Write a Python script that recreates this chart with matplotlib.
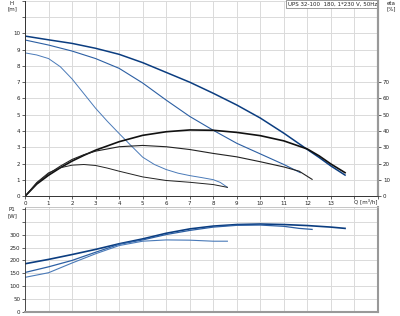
import matplotlib.pyplot as plt
from matplotlib.ticker import MultipleLocator

# flow Q [m3/h] and head H [m] for the three speeds
q3 = [0, 1, 2, 3, 4, 5, 6, 7, 8, 9, 10, 11, 12, 12.5, 13, 13.6]
h3 = [9.83, 9.6, 9.38, 9.08, 8.71, 8.2, 7.6, 7.0, 6.32, 5.6, 4.8, 3.87, 2.87, 2.38, 1.86, 1.3]
q2 = [0, 1, 2, 3, 4, 5, 6, 7, 8, 9, 10, 11, 11.7]
h2 = [9.59, 9.28, 8.91, 8.45, 7.85, 6.95, 5.9, 4.9, 4.05, 3.25, 2.6, 1.95, 1.45]
q1 = [0, 0.5, 1, 1.5, 2, 2.5, 3, 3.5, 4, 4.5, 5, 5.5, 6, 6.5, 7, 7.5, 8, 8.3, 8.6]
h1 = [8.8, 8.67, 8.45, 7.95, 7.2, 6.3, 5.4, 4.6, 3.85, 3.12, 2.4, 1.95, 1.64, 1.42, 1.27, 1.15, 1.02, 0.85, 0.55]

# efficiency eta [%]
qe3 = [0, 0.5, 1, 1.5, 2, 2.5, 3, 4, 5, 6, 7, 8, 9, 10, 11, 12, 12.5, 13, 13.6]
eta3 = [0, 7.5, 12.9, 17.5, 21.6, 25.1, 28.3, 33.5, 37.4, 39.6, 40.7, 40.5, 39.2, 37.2, 34.0, 29.0, 24.8, 19.8, 14.5]
qe2 = [0, 0.5, 1, 1.5, 2, 2.5, 3, 4, 5, 6, 7, 8, 9, 10, 11, 11.65, 12.2]
eta2 = [0, 8.0, 13.8, 18.5, 22.6, 25.5, 27.7, 30.4, 31.2, 30.4, 28.7, 26.3, 24.2, 21.2, 18.0, 15.4, 10.4]
qe1 = [0, 0.5, 1, 1.5, 2, 2.5, 3, 3.5, 4, 5, 6, 7, 8, 8.6]
eta1 = [0, 8.5, 14.4, 17.5, 19.1, 19.5, 18.9, 17.3, 15.4, 11.9, 9.7, 8.6, 7.2, 5.5]

# power P1 [W]
p3 = [187, 204, 223, 243, 265, 284, 306, 323, 334, 340, 342, 340, 336, 333, 330, 325]
qp2 = [0, 1, 2, 3, 4, 5, 6, 7, 8, 9, 10, 11, 11.65, 12.2]
p2 = [153, 175, 200, 232, 263, 280, 301, 317, 330, 337, 338, 333, 325, 321]
qp1 = [0, 1, 2, 3, 4, 5, 6, 7, 8, 8.6]
p1 = [134, 152, 190, 226, 258, 275, 280, 279, 275, 275]

title = "UPS 32-100  180, 1*230 V, 50Hz"
c3, c2, c1 = '#0b3d80', '#2c5fa3', '#4a7ab8'
grid_c = '#dadada'
fs = 4

fig = plt.figure(figsize=(4, 3.16), dpi=100)
ax = fig.add_axes([0.0625, 0.3788, 0.8825, 0.619])
axp = fig.add_axes([0.0625, 0.0136, 0.8825, 0.331])

# ---- upper chart: head and efficiency
ax.set_xlim(0, 15)
ax.set_ylim(0, 12)
ax.xaxis.set_major_locator(MultipleLocator(1))
ax.yaxis.set_major_locator(MultipleLocator(1))
ax.grid(True, color=grid_c, lw=0.7)
ax.set_axisbelow(True)
ax.set_xticks(range(0, 16))
ax.set_xticklabels([str(i) for i in range(14)] + ['', ''])
ax.set_yticks(range(0, 13))
ax.set_yticklabels([str(i) for i in range(11)] + ['', ''])
ax.tick_params(labelsize=fs, length=2, width=0.5, pad=1.5, colors='#222')
ax.text(14.47, -0.15, 'Q [m³/h]', fontsize=fs, ha='center', va='top', color='#222')
ax.text(-0.55, 12.0, 'H\n[m]', fontsize=fs, ha='center', va='top', color='#222', linespacing=1.2)

ax.plot(q3, h3, color=c3, lw=1.1)
ax.plot(q2, h2, color=c2, lw=0.8)
ax.plot(q1, h1, color=c1, lw=0.7)
ax.plot(qe3, [e / 10 for e in eta3], color='#111', lw=1.2)
ax.plot(qe2, [e / 10 for e in eta2], color='#222', lw=0.8)
ax.plot(qe1, [e / 10 for e in eta1], color='#222', lw=0.7)

axe = ax.twinx()
axe.set_ylim(0, 120)
axe.set_yticks(range(0, 80, 10))
axe.set_yticklabels([str(i) for i in range(0, 80, 10)])
axe.tick_params(labelsize=fs, length=2, width=0.5, pad=1.5, colors='#222')
axe.text(15.55, 12.0, 'eta\n[%]', fontsize=fs, ha='center', va='top', color='#222',
         linespacing=1.2, transform=ax.transData)

for a in (ax, axe):
    a.spines['top'].set_visible(False)
    a.spines['left'].set_color('#333')
    a.spines['left'].set_linewidth(0.6)
    a.spines['bottom'].set_color('#333')
    a.spines['bottom'].set_linewidth(0.6)
    a.spines['right'].set_color('#999')
    a.spines['right'].set_linewidth(1.5)

ax.text(14.95, 11.95, title, fontsize=fs, ha='right', va='top', color='#222',
        bbox=dict(boxstyle='square,pad=0.25', fc='white', ec='#888', lw=0.6))

# ---- lower chart: power
axp.set_xlim(0, 15)
axp.set_ylim(0, 408)
axp.set_xticks(range(0, 16))
axp.set_xticklabels([])
axp.tick_params(axis='x', length=0)
axp.set_yticks(range(0, 450, 50))
axp.set_yticklabels([str(i) for i in range(0, 350, 50)] + ['', ''])
axp.tick_params(axis='y', labelsize=fs, length=2, width=0.5, pad=1.5, colors='#222')
axp.grid(True, color=grid_c, lw=0.7)
axp.set_axisbelow(True)
axp.text(-0.55, 408, 'P1\n[W]', fontsize=fs, ha='center', va='top', color='#222', linespacing=1.2)
axp.spines['left'].set_color('#333')
axp.spines['left'].set_linewidth(0.6)
axp.spines['top'].set_color('#bbb')
axp.spines['top'].set_linewidth(0.6)
for s in ('right', 'bottom'):
    axp.spines[s].set_color('#999')
    axp.spines[s].set_linewidth(1.5)

axp.plot(q3, p3, color=c3, lw=1.2)
axp.plot(qp2, p2, color=c2, lw=0.9)
axp.plot(qp1, p1, color=c1, lw=0.8)

fig.savefig('out.png', dpi=100)
